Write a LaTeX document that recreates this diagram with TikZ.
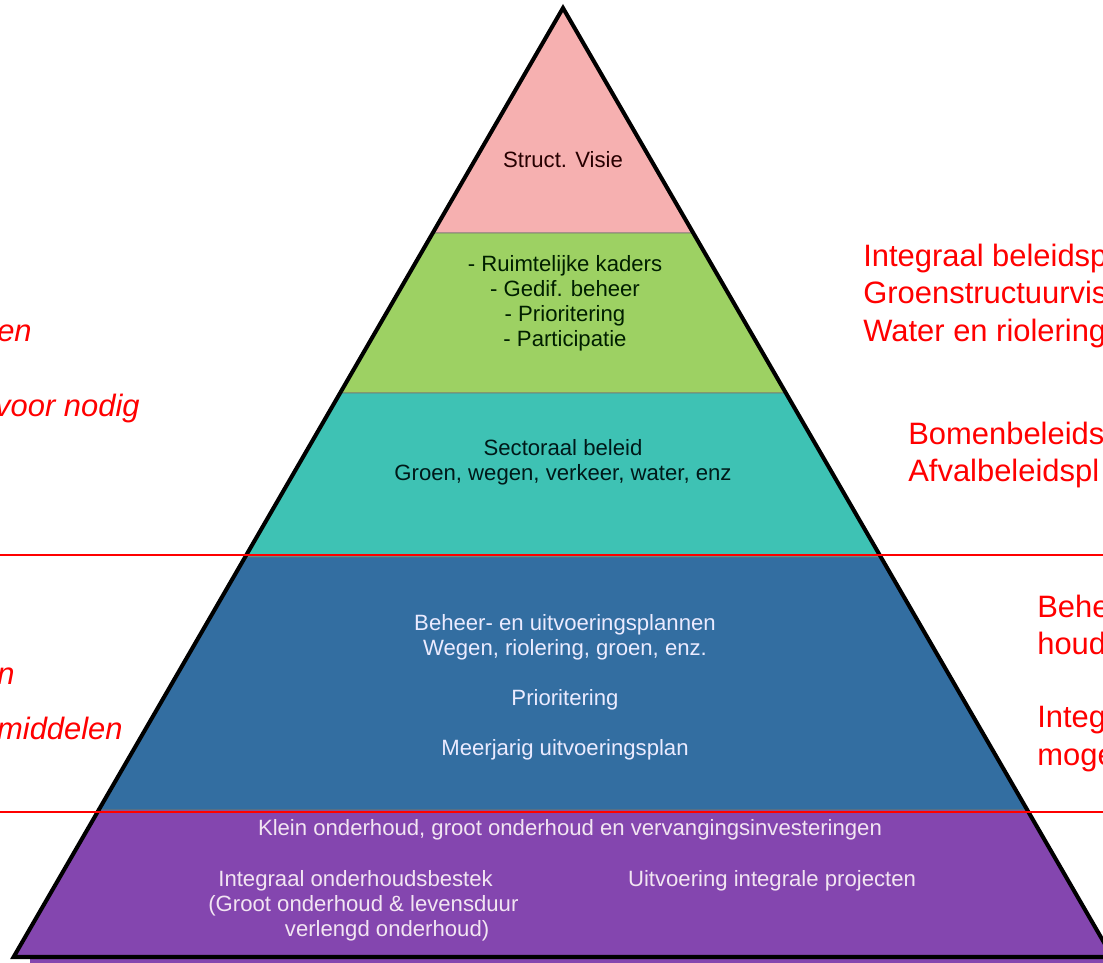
\documentclass[tikz,border=0pt]{standalone}
\usepackage{fontspec}
\setmainfont{Liberation Sans}
\usepackage{tikz}
\definecolor{colorpink}{HTML}{F6B0B0}
\definecolor{colorgreen}{HTML}{9DD163}
\definecolor{colorteal}{HTML}{3EC2B4}
\definecolor{colorblue}{HTML}{336EA1}
\definecolor{colorpurple}{HTML}{8446AF}
\tikzstyle{layer} = [draw=black!55, line width=0.5pt]
\tikzstyle{tiertext} = [align=center, inner sep=0pt, font=\fontsize{12.6}{14.2}\selectfont]
\tikzstyle{remark} = [align=left, inner sep=0pt, anchor=west, text=red, font=\fontsize{17.6}{21.5}\selectfont]
\tikzstyle{leftremark} = [inner sep=0pt, anchor=east, text=red, font=\fontsize{17.6}{21.5}\selectfont\itshape]
\tikzstyle{divider} = [red, line width=1.2pt]

\begin{document}
\begin{tikzpicture}[x=0.02cm, y=-0.02cm]

		\useasboundingbox (0,0) rectangle (1103,963);
		\clip (0,0) rectangle (1103,963);

		\fill [colorpurple] (30,957) rectangle (1103,963);
		\draw [layer, fill=colorpink] (563,8) -- (693.3,233) -- (432.7,233) -- cycle;
		\draw [layer, fill=colorgreen] (432.7,233) -- (693.3,233) -- (785.9,393) -- (340.1,393) -- cycle;
		\draw [layer, fill=colorteal] (340.1,393) -- (785.9,393) -- (880.8,557) -- (245.2,557) -- cycle;
		\draw [layer, fill=colorblue] (245.2,557) -- (880.8,557) -- (1027.3,810) -- (98.7,810) -- cycle;
		\draw [layer, fill=colorpurple] (98.7,810) -- (1027.3,810) -- (1112.4,957) -- (13.6,957) -- cycle;
		\draw [line width=2.3pt, line join=miter] (13.6,957) -- (563,8) -- (1112.4,957) -- cycle;

		\draw [divider] (0,555) -- (1103,555);
		\draw [divider] (0,812) -- (1103,812);

		\node (visie) [tiertext, text=black!75!red!60!black] at (563,160) {Struct. Visie};
		\node (kaders) [tiertext, text=black!70!green!40!black] at (565,303) {- Ruimtelijke kaders\\- Gedif. beheer\\- Prioritering\\- Participatie};
		\node (sectoraal) [tiertext, text=black!80!teal] at (563,462) {Sectoraal beleid\\Groen, wegen, verkeer, water, enz};
		\node (beheer) [tiertext, text=blue!8!white] at (565,637) {Beheer- en uitvoeringsplannen\\Wegen, riolering, groen, enz.};
		\node (prio) [tiertext, text=blue!8!white] at (565,700) {Prioritering};
		\node (meerjarig) [tiertext, text=blue!8!white] at (565,750) {Meerjarig uitvoeringsplan};
		\node (klein) [tiertext, text=violet!10!white] at (570,830) {Klein onderhoud, groot onderhoud en vervangingsinvesteringen};
		\node (bestek) [tiertext, align=left, anchor=west, text=violet!10!white] at (208,906) {\hspace{5.7pt}Integraal onderhoudsbestek\\(Groot onderhoud \& levensduur\\\hspace{43.6pt}verlengd onderhoud)};
		\node (projecten) [tiertext, text=violet!10!white] at (772,881) {Uitvoering integrale projecten};

		\node (integraal) [remark] at (863,296) {Integraal beleidsp\\Groenstructuurvis\\Water en riolering};
		\node (bomen) [remark] at (908,455) {Bomenbeleids\\Afvalbeleidspl};
		\node (behe) [remark] at (1037,625) {Behe\\houd};
		\node (integ) [remark] at (1037,739) {Integ\\moge};

		\node (en) [leftremark] at (32,333) {en};
		\node (nodig) [leftremark] at (140,409) {voor nodig};
		\node (n) [leftremark] at (15,676) {n};
		\node (middelen) [leftremark] at (123,728) {middelen};

\end{tikzpicture}
\end{document}
